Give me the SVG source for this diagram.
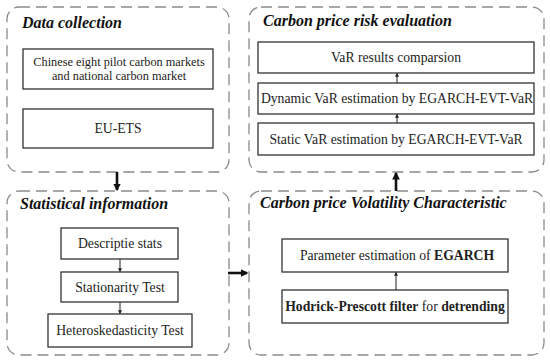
<svg xmlns="http://www.w3.org/2000/svg" width="550" height="363" viewBox="0 0 550 363">
<defs>
<style>
.panel{fill:none;stroke:#8a8a8a;stroke-width:1.3;stroke-dasharray:11 6}
.box{fill:#fff;stroke:#333;stroke-width:1.3}
.title{font-family:"Liberation Serif",serif;font-weight:bold;font-style:italic;font-size:16px;fill:#111}
.t{font-family:"Liberation Serif",serif;font-size:13.7px;fill:#222;text-anchor:middle}
.s{font-size:12.3px}
.b{font-weight:bold}
.thin{stroke:#222;stroke-width:1;fill:none}
.thick{stroke:#111;stroke-width:2.6;fill:none}
</style>
<marker id="sa" viewBox="0 0 6 6" refX="5" refY="3" markerWidth="4" markerHeight="4" orient="auto"><path d="M0,0 L6,3 L0,6 z" fill="#222"/></marker>
<marker id="ba" viewBox="0 0 6 6" refX="5" refY="3" markerWidth="3" markerHeight="3" orient="auto"><path d="M0,0 L6,3 L0,6 z" fill="#111"/></marker>
</defs>
<rect width="550" height="363" fill="#fff"/>

<g id="data-collection">
<rect class="panel" x="7" y="7" width="222" height="165" rx="12"/>
<text class="title" x="22" y="28">Data collection</text>
<rect class="box" x="23" y="49" width="190" height="40"/>
<text class="t s" x="119" y="66">Chinese eight pilot carbon markets</text>
<text class="t s" x="119" y="80">and national carbon market</text>
<rect class="box" x="23" y="109" width="190" height="39"/>
<text class="t" x="118" y="133">EU-ETS</text>
</g>

<g id="risk-evaluation">
<rect class="panel" x="249" y="7" width="295" height="165" rx="12"/>
<text class="title" x="263" y="26">Carbon price risk evaluation</text>
<rect class="box" x="258" y="42" width="276" height="31"/>
<text class="t" x="396" y="62">VaR results comparsion</text>
<rect class="box" x="258" y="83" width="276" height="31"/>
<text class="t" x="397" y="103">Dynamic VaR estimation by EGARCH-EVT-VaR</text>
<rect class="box" x="258" y="123" width="276" height="32"/>
<text class="t" x="396" y="143.5">Static VaR estimation by EGARCH-EVT-VaR</text>
</g>

<g id="statistical-information">
<rect class="panel" x="7" y="191" width="222" height="164" rx="12"/>
<text class="title" x="20" y="209">Statistical information</text>
<rect class="box" x="61" y="228" width="117" height="31"/>
<text class="t" x="120" y="248">Descriptie stats</text>
<rect class="box" x="61" y="272" width="117" height="30"/>
<text class="t" x="120" y="291.5">Stationarity Test</text>
<rect class="box" x="48" y="314" width="144" height="33"/>
<text class="t" x="120" y="335">Heteroskedasticity Test</text>
</g>

<g id="volatility-characteristic">
<rect class="panel" x="249" y="191" width="295" height="164" rx="12"/>
<text class="title" x="260" y="208">Carbon price Volatility Characteristic</text>
<rect class="box" x="282" y="239" width="226" height="33"/>
<text class="t" x="397" y="260">Parameter estimation of <tspan class="b">EGARCH</tspan></text>
<rect class="box" x="282" y="290" width="226" height="33"/>
<text class="t" x="395" y="311"><tspan class="b">Hodrick-Prescott filter</tspan> for <tspan class="b">detrending</tspan></text>
</g>

<g id="connectors">
<line class="thin" x1="397" y1="83" x2="397" y2="73.5" marker-end="url(#sa)"/>
<line class="thin" x1="397" y1="123" x2="397" y2="114.5" marker-end="url(#sa)"/>
<line class="thin" x1="120" y1="259" x2="120" y2="271.5" marker-end="url(#sa)"/>
<line class="thin" x1="120" y1="302" x2="120" y2="313.5" marker-end="url(#sa)"/>
<line class="thin" x1="396" y1="290" x2="396" y2="272.5" marker-end="url(#sa)"/>
<line class="thick" x1="117" y1="172" x2="117" y2="190" marker-end="url(#ba)"/>
<line class="thick" x1="228" y1="273" x2="247" y2="273" marker-end="url(#ba)"/>
<line class="thick" x1="396" y1="191" x2="396" y2="173" marker-end="url(#ba)"/>
</g>
</svg>
